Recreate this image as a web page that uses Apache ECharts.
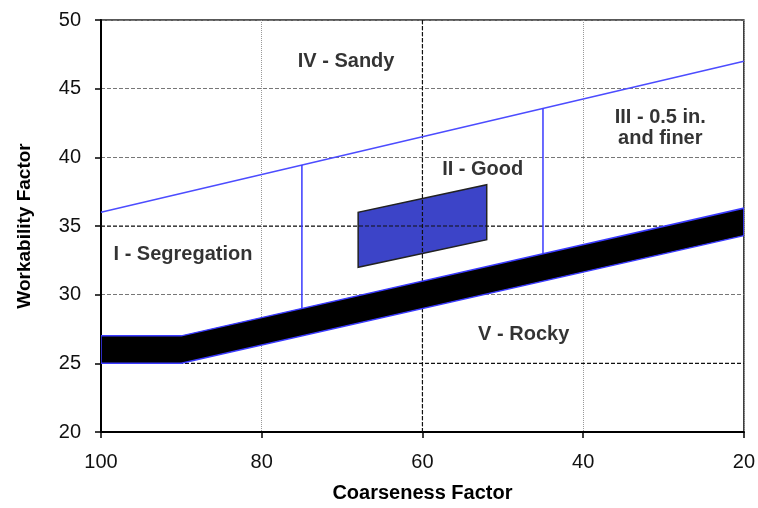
<!DOCTYPE html>
<html>
<head>
<meta charset="utf-8">
<script src="https://cdn.jsdelivr.net/npm/echarts@6/dist/echarts.min.js"></script>
<style>
  html, body { margin: 0; padding: 0; background: #fff; }
  #chart { width: 758px; height: 508px; }
</style>
</head>
<body>
<div id="chart"></div>
<script>
  // x: coarseness factor (axis runs 100 -> 20), y: workability factor
  var xTicks = [100, 80, 60, 40, 20];
  var yTicks = [20, 25, 30, 35, 40, 45, 50];

  // zone IV upper boundary
  var sandyLine = [[100, 36], [20, 47]];
  // vertical dividers between zones
  var dividerA = [[75, 39.44], [75, 29.0]];
  var dividerB = [[45, 43.56], [45, 33.0]];
  // black trend bar (upper and lower edge)
  var bandUpper = [[100, 27], [90, 27], [20, 36.3]];
  var bandLower = [[100, 25], [90, 25], [20, 34.3]];
  // zone II parallelogram
  var goodZone = [[68, 32], [68, 36], [52, 38], [52, 34]];
  // darker reference grid lines
  var darkX = [60];
  var darkY = [25, 35];
  // zone labels [x, y, text]
  var zoneLabels = [
    [69.5, 46.97, 'IV - Sandy'],
    [30.4, 42.13, 'III - 0.5 in.\nand finer'],
    [52.5, 39.1, 'II - Good'],
    [89.8, 32.9, 'I - Segregation'],
    [47.4, 27.1, 'V - Rocky']
  ];

  var xMin = xTicks[xTicks.length - 1], xMax = xTicks[0];
  var yMin = yTicks[0], yMax = yTicks[yTicks.length - 1];

  var chart = echarts.init(document.getElementById('chart'));

  var bandPoints = bandUpper.concat(bandLower.slice().reverse());
  var font = 'Arial, "Liberation Sans", sans-serif';
  var darkDash = { stroke: '#111', lineWidth: 1.2, lineDash: [4, 2] };

  // zone II box with the dark grid lines drawn on top of it
  function renderGoodZone(params, api) {
    var children = [{
      type: 'polygon',
      shape: { points: goodZone.map(function (p) { return api.coord(p); }) },
      style: { fill: '#3c44c8', stroke: '#222', lineWidth: 1.5 }
    }];
    darkX.forEach(function (v) {
      var a = api.coord([v, yMin]), b = api.coord([v, yMax]);
      children.push({ type: 'line', shape: { x1: a[0], y1: a[1], x2: b[0], y2: b[1] }, style: darkDash });
    });
    darkY.forEach(function (v) {
      var a = api.coord([xMax, v]), b = api.coord([xMin, v]);
      children.push({ type: 'line', shape: { x1: a[0], y1: a[1], x2: b[0], y2: b[1] }, style: darkDash });
    });
    return { type: 'group', children: children };
  }

  function renderBand(params, api) {
    return {
      type: 'polygon',
      shape: { points: bandPoints.map(function (p) { return api.coord(p); }) },
      style: { fill: '#000', stroke: '#3a3aff', lineWidth: 1.5 }
    };
  }

  chart.setOption({
    animation: false,
    grid: {
      left: 101, right: 13, top: 20, bottom: 72,
      show: true, borderColor: '#222', borderWidth: 1.5
    },
    xAxis: {
      type: 'value', min: xMin, max: xMax, interval: 20, inverse: true,
      name: 'Coarseness Factor', nameLocation: 'middle', nameGap: 51,
      nameTextStyle: { fontFamily: font, fontSize: 20, fontWeight: 'bold', color: '#000' },
      axisLine: { lineStyle: { color: '#000', width: 2 } },
      axisTick: { show: true, length: 6, lineStyle: { color: '#000', width: 1.5 } },
      axisLabel: { margin: 20, fontFamily: font, fontSize: 20, color: '#111' },
      splitLine: { show: true, lineStyle: { color: '#999', type: 'dotted', width: 1 } }
    },
    yAxis: {
      type: 'value', min: yMin, max: yMax, interval: 5,
      name: 'Workability Factor', nameLocation: 'middle', nameGap: 67,
      nameTextStyle: { fontFamily: font, fontSize: 19, fontWeight: 'bold', color: '#000' },
      axisLine: { show: true, lineStyle: { color: '#000', width: 2 } },
      axisTick: { show: true, length: 6, lineStyle: { color: '#000', width: 1.5 } },
      axisLabel: { margin: 20, fontFamily: font, fontSize: 20, color: '#111' },
      splitLine: { show: true, lineStyle: { color: '#777', type: [4, 2], width: 1 } }
    },
    series: [
      {
        type: 'custom', z: 2, clip: true, silent: true,
        data: [goodZone[0]],
        renderItem: renderGoodZone
      },
      {
        type: 'line', z: 4, data: sandyLine, symbol: 'none',
        lineStyle: { color: '#4c4cff', width: 1.5 }
      },
      {
        type: 'line', z: 4, data: dividerA, symbol: 'none',
        lineStyle: { color: '#3a3aff', width: 1.5 }
      },
      {
        type: 'line', z: 4, data: dividerB, symbol: 'none',
        lineStyle: { color: '#3a3aff', width: 1.5 }
      },
      {
        type: 'custom', z: 8, clip: true, silent: true,
        data: [bandUpper[0]],
        renderItem: renderBand
      },
      {
        type: 'scatter', z: 10, symbolSize: 0,
        data: zoneLabels.map(function (d) { return { value: [d[0], d[1]], name: d[2] }; }),
        label: {
          show: true, position: 'inside', formatter: '{b}',
          fontFamily: font, fontSize: 20, fontWeight: 'bold', color: '#000',
          align: 'center', verticalAlign: 'middle', lineHeight: 21
        }
      }
    ]
  });
</script>
</body>
</html>
